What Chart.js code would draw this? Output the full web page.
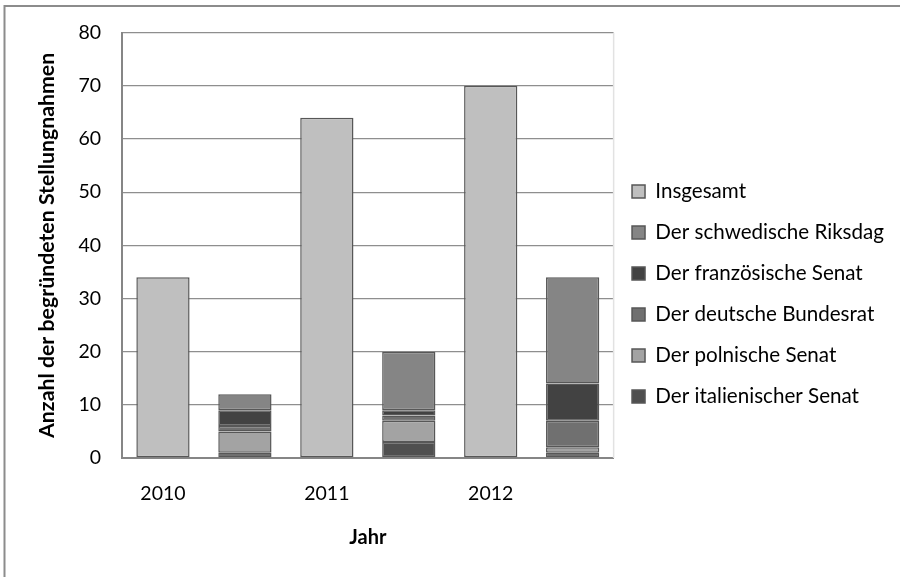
<!DOCTYPE html>
<html>
<head>
<meta charset="utf-8">
<script src="https://cdn.jsdelivr.net/npm/chart.js@4/dist/chart.umd.min.js"></script>
<style>
  html, body { margin: 0; padding: 0; background: #fff; }
  #wrap { width: 900px; height: 577px; position: relative; }
</style>
</head>
<body>
<div id="wrap"><canvas id="c" width="900" height="577"></canvas></div>
<script>
// Year slots: each year has a total bar followed by a stacked breakdown bar
const categories = ['2010', '', '2011', '', '2012', ''];

const insgesamt    = [34, null, 64, null, 70, null];
const italienisch  = [null, 1, null, 3, null, 1];
const polnisch     = [null, 4, null, 4, null, 1];
const deutsch      = [null, 1, null, 1, null, 5];
const franzoesisch = [null, 3, null, 1, null, 7];
const schwedisch   = [null, 3, null, 11, null, 20];

const yTicks = [0, 10, 20, 30, 40, 50, 60, 70, 80];

const FONT = 'Lato, "Open Sans", sans-serif';
const BAR_BORDER = '#575757';

function ds(label, data, color) {
  return {
    label: label,
    data: data,
    backgroundColor: color,
    borderColor: BAR_BORDER,
    borderWidth: 1.5,
    borderSkipped: false,
    barPercentage: 0.65,
    categoryPercentage: 1.0
  };
}

// Frame around the whole figure plus the light right edge of the plot
const framePlugin = {
  id: 'frame',
  afterLayout(chart) {
    // nudge the legend column slightly
    const lg = chart.legend;
    if (lg) {
      lg.left -= 2; lg.right -= 2;
      lg.top -= 10; lg.bottom -= 10;
    }
  },
  beforeDraw(chart) {
    const ctx = chart.ctx;
    ctx.save();
    ctx.strokeStyle = '#8c8c8c';
    ctx.lineWidth = 2;
    ctx.beginPath();
    ctx.moveTo(4.5, 577);
    ctx.lineTo(4.5, 6);
    ctx.lineTo(900, 6);
    ctx.stroke();
    ctx.restore();
  },
  afterDatasetsDraw(chart) {
    const a = chart.chartArea;
    const ctx = chart.ctx;
    ctx.save();
    ctx.strokeStyle = '#e2e2e2';
    ctx.lineWidth = 1.5;
    ctx.beginPath();
    ctx.moveTo(a.right, a.top);
    ctx.lineTo(a.right, a.bottom);
    ctx.stroke();
    ctx.restore();
  }
};

new Chart(document.getElementById('c'), {
  type: 'bar',
  data: {
    labels: categories,
    datasets: [
      ds('Insgesamt', insgesamt, '#bfbfbf'),
      ds('Der italienischer Senat', italienisch, '#4f4f4f'),
      ds('Der polnische Senat', polnisch, '#a3a3a3'),
      ds('Der deutsche Bundesrat', deutsch, '#707070'),
      ds('Der französische Senat', franzoesisch, '#424242'),
      ds('Der schwedische Riksdag', schwedisch, '#858585')
    ]
  },
  options: {
    responsive: false,
    animation: false,
    devicePixelRatio: 1,
    layout: { padding: { left: 0, top: 31, right: 4, bottom: 0 } },
    plugins: {
      tooltip: { enabled: false },
      legend: {
        position: 'right',
        align: 'center',
        maxWidth: 296,
        labels: {
          color: '#000',
          font: { family: FONT, size: 20.6 },
          boxWidth: 13,
          boxHeight: 13,
          padding: 20.4,
          sort: (a, b) => {
            const k = i => (i.datasetIndex === 0 ? -100 : -i.datasetIndex);
            return k(a) - k(b);
          }
        }
      }
    },
    scales: {
      x: {
        stacked: true,
        afterFit: s => { s.height = 119; },
        grid: { display: false, drawTicks: false },
        border: { display: true, color: '#868686', width: 2 },
        ticks: { color: '#000', font: { family: FONT, size: 19.5 }, padding: 24, maxRotation: 0, autoSkip: false },
        title: {
          display: true,
          text: 'Jahr',
          color: '#000',
          font: { family: FONT, size: 20, weight: 'bold' },
          padding: { top: 0, bottom: 27 }
        }
      },
      y: {
        stacked: true,
        min: 0,
        max: 80,
        afterFit: s => { s.width = 122; },
        afterBuildTicks: s => { s.ticks = yTicks.map(v => ({ value: v })); },
        grid: { color: '#8e8e8e', lineWidth: 1.3, drawTicks: false },
        border: { display: true, color: '#868686', width: 2 },
        ticks: { color: '#000', font: { family: FONT, size: 19.5 }, padding: 21 },
        title: {
          display: true,
          text: 'Anzahl der begründeten Stellungnahmen',
          color: '#000',
          font: { family: FONT, size: 21.3, weight: 'bold' },
          padding: { top: 34, bottom: 0 }
        }
      }
    }
  },
  plugins: [framePlugin]
});
</script>
</body>
</html>
